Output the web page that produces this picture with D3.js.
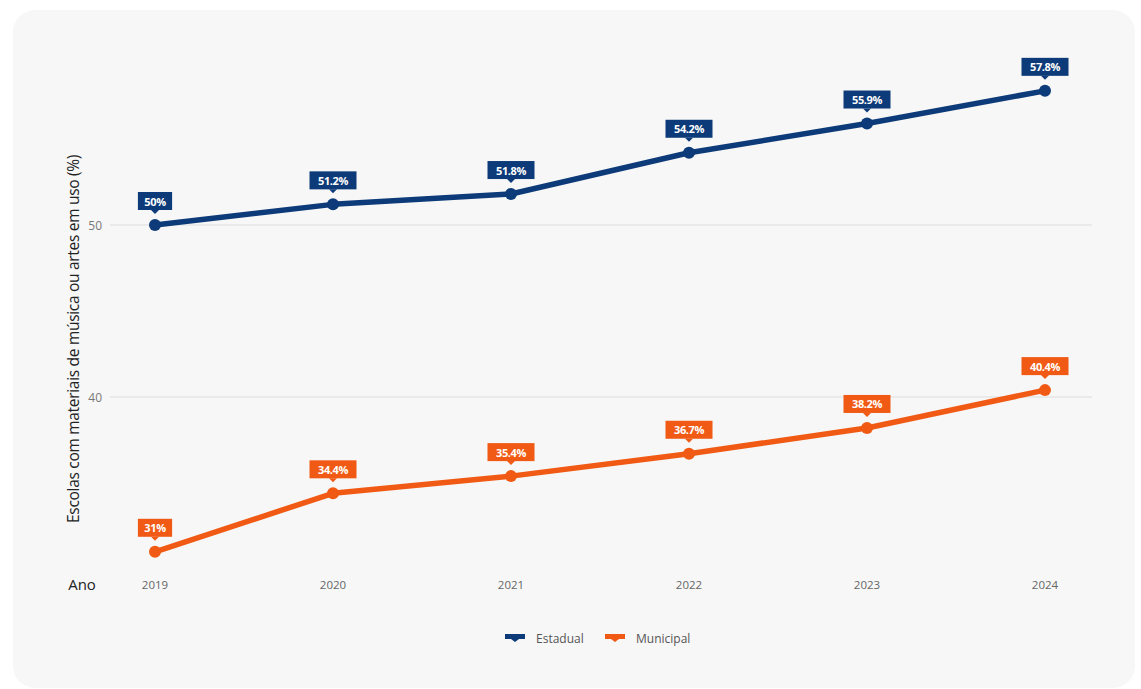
<!DOCTYPE html>
<html>
<head>
<meta charset="utf-8">
<script src="https://cdn.jsdelivr.net/npm/d3@7"></script>
<style>
  body { margin: 0; background: #fff; font-family: "Open Sans", "Noto Sans", sans-serif; }
</style>
</head>
<body>
<div id="chart"></div>
<script>
const years = ['2019', '2020', '2021', '2022', '2023', '2024'];
const estadual = [50, 51.2, 51.8, 54.2, 55.9, 57.8];
const municipal = [31, 34.4, 35.4, 36.7, 38.2, 40.4];
const yTicks = [40, 50];
const seriesNames = ['Estadual', 'Municipal'];
const seriesColors = ['#0d3a78', '#f05a14'];

const W = 1141, H = 689;
const svg = d3.select('#chart').append('svg').attr('width', W).attr('height', H);

svg.append('rect')
    .attr('x', 13).attr('y', 10)
    .attr('width', 1122).attr('height', 678)
    .attr('rx', 22)
    .attr('fill', '#f7f7f7');

const x = d3.scalePoint().domain(years).range([155, 1045]);
const y = d3.scaleLinear().domain([40, 50]).range([397, 225]);

// grid
svg.append('g')
    .selectAll('line')
    .data(yTicks)
    .join('line')
    .attr('x1', 110).attr('x2', 1092)
    .attr('y1', (d) => y(d)).attr('y2', (d) => y(d))
    .attr('stroke', '#e6e6e6')
    .attr('stroke-width', 1.5);

svg.append('g')
    .selectAll('text')
    .data(yTicks)
    .join('text')
    .attr('x', 102).attr('y', (d) => y(d))
    .attr('text-anchor', 'end')
    .attr('dominant-baseline', 'central')
    .attr('fill', '#777')
    .style('font-size', '12px')
    .text((d) => d);

// x axis labels
svg.append('g')
    .selectAll('text')
    .data(years)
    .join('text')
    .attr('x', (d) => x(d)).attr('y', 584)
    .attr('text-anchor', 'middle')
    .attr('dominant-baseline', 'central')
    .attr('fill', '#666')
    .style('font-size', '11.5px')
    .text((d) => d);

svg.append('text')
    .attr('x', 82).attr('y', 584)
    .attr('text-anchor', 'middle')
    .attr('dominant-baseline', 'central')
    .attr('fill', '#222')
    .style('font-size', '15px')
    .text('Ano');

svg.append('text')
    .attr('transform', 'translate(73,339) rotate(-90)')
    .attr('text-anchor', 'middle')
    .attr('dominant-baseline', 'central')
    .attr('fill', '#222')
    .style('font-size', '15.5px')
    .style('letter-spacing', '-0.3px')
    .text('Escolas com materiais de música ou artes em uso (%)');

const line = d3.line().x((d, i) => x(years[i])).y((d) => y(d));

[estadual, municipal].forEach((values, s) => {
    const color = seriesColors[s];
    const g = svg.append('g');
    g.append('path')
        .attr('d', line(values))
        .attr('fill', 'none')
        .attr('stroke', color)
        .attr('stroke-width', 5.5)
        .attr('stroke-linejoin', 'round')
        .attr('stroke-linecap', 'round');
    g.selectAll('circle')
        .data(values)
        .join('circle')
        .attr('cx', (d, i) => x(years[i]))
        .attr('cy', (d) => y(d))
        .attr('r', 6)
        .attr('fill', color);

    const labels = g.selectAll('g.lab')
        .data(values)
        .join('g')
        .attr('class', 'lab')
        .attr('transform', (d, i) => `translate(${x(years[i])},${y(d) - 15})`);
    labels.each(function (d) {
        const lab = d3.select(this);
        const txt = d + '%';
        const w = txt.length * 6.4 + 15;
        lab.append('rect')
            .attr('x', -w / 2).attr('y', -18)
            .attr('width', w).attr('height', 18)
            .attr('fill', color);
        lab.append('path')
            .attr('d', 'M-4,0 L4,0 L0,4 Z')
            .attr('fill', color);
        lab.append('text')
            .attr('x', 0).attr('y', -9)
            .attr('text-anchor', 'middle')
            .attr('dominant-baseline', 'central')
            .attr('fill', '#fff')
            .style('font-size', '11px')
            .style('font-weight', 'bold')
            .style('letter-spacing', '-0.4px')
            .text(txt);
    });
});

// legend
const legendX = [505, 605];
seriesNames.forEach((name, i) => {
    const lg = svg.append('g').attr('transform', `translate(${legendX[i]},638)`);
    lg.append('path')
        .attr('d', 'M0,-4 L20,-4 L20,1 L14,1 L10,4 L6,1 L0,1 Z')
        .attr('fill', seriesColors[i]);
    lg.append('text')
        .attr('x', 31).attr('y', 0)
        .attr('dominant-baseline', 'central')
        .attr('fill', '#555')
        .style('font-size', '12px')
        .text(name);
});
</script>
</body>
</html>
